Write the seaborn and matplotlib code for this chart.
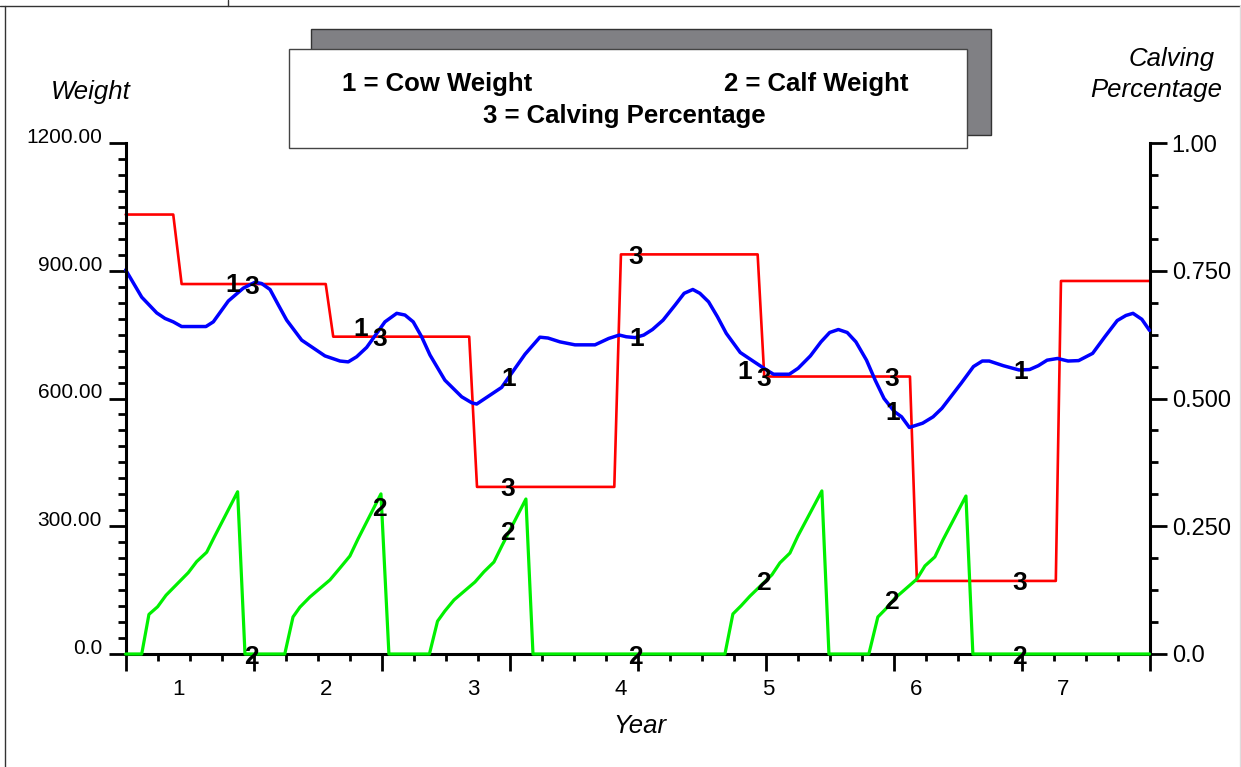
import numpy as np
import pandas as pd
import matplotlib
matplotlib.use("Agg")
import matplotlib.pyplot as plt
from matplotlib.patches import Rectangle
from matplotlib.lines import Line2D
from matplotlib.ticker import MultipleLocator
import seaborn as sns

# ---------------------------------------------------------------- data
cow_year = [0.638, 0.747, 0.849, 0.905, 0.961, 1.018, 1.183, 1.233, 1.335, 1.436,
            1.516, 1.561, 1.618, 1.674, 1.731, 1.833, 1.991, 2.093, 2.149, 2.206,
            2.274, 2.398, 2.478, 2.534, 2.590, 2.647, 2.704, 2.805, 2.919, 2.987,
            3.021, 3.190, 3.349, 3.450, 3.505, 3.586, 3.688, 3.824, 3.917, 3.989,
            4.036, 4.096, 4.155, 4.214, 4.286, 4.369, 4.429, 4.488, 4.536, 4.595,
            4.655, 4.715, 4.810, 4.905, 4.988, 5.036, 5.143, 5.203, 5.286, 5.358,
            5.417, 5.476, 5.536, 5.595, 5.667, 5.726, 5.786, 5.857, 5.905, 5.958,
            6.048, 6.119, 6.179, 6.239, 6.310, 6.393, 6.453, 6.500, 6.596, 6.702,
            6.774, 6.833, 6.893, 6.964, 7.035, 7.107, 7.202, 7.285, 7.369, 7.428,
            7.476, 7.536, 7.588]
cow_weight = [902, 838, 801, 788, 780, 769, 769, 780, 829, 859,
              873, 870, 856, 820, 784, 737, 700, 688, 686, 698,
              720, 780, 800, 796, 780, 745, 702, 643, 604, 590,
              587, 626, 704, 744, 742, 733, 726, 726, 741, 749,
              745, 743, 749, 762, 784, 820, 847, 856, 847, 827,
              792, 753, 708, 686, 667, 657, 657, 671, 700, 733,
              755, 762, 755, 733, 690, 643, 600, 569, 557, 532,
              542, 557, 577, 604, 636, 675, 688, 688, 677, 667,
              668, 677, 690, 694, 688, 689, 706, 745, 783, 795,
              800, 786, 760]

calf_year = [0.638, 0.747, 0.796, 0.855, 0.912, 1.063, 1.120, 1.188, 1.240, 1.398, 1.448,
             1.718, 1.774, 1.821, 1.889, 2.025, 2.093, 2.160, 2.215, 2.371, 2.425,
             2.700, 2.755, 2.805, 2.867, 3.009, 3.070, 3.138, 3.192, 3.355, 3.403,
             4.706, 4.760, 4.815, 4.876, 5.025, 5.079, 5.147, 5.201, 5.364, 5.412,
             5.683, 5.744, 5.798, 5.860, 6.009, 6.064, 6.131, 6.186, 6.342, 6.389,
             7.588]
calf_weight = [0, 0, 93, 111, 138, 191, 217, 239, 275, 381, 0,
               0, 87, 110, 134, 174, 202, 230, 270, 376, 0,
               0, 77, 101, 127, 169, 193, 216, 254, 364, 0,
               0, 94, 113, 136, 186, 214, 237, 277, 383, 0,
               0, 87, 106, 131, 176, 207, 228, 268, 371, 0,
               0]

calving_year = [0.638, 0.961, 1.018, 1.996, 2.047, 2.970, 3.023, 3.955,
                4.000, 4.928, 4.973, 5.962, 6.009, 6.952, 6.987, 7.588]
calving_pct = [0.860, 0.860, 0.724, 0.724, 0.621, 0.621, 0.327, 0.327,
               0.782, 0.782, 0.543, 0.543, 0.143, 0.143, 0.730, 0.730]

year_ticks = [1, 2, 3, 4, 5, 6, 7]
year_labels = ["1", "2", "3", "4", "5", "6", "7"]
weight_ticks = [0, 300, 600, 900, 1200]
weight_labels = ["0.0", "300.00", "600.00", "900.00", "1200.00"]
pct_ticks = [0.0, 0.25, 0.5, 0.75, 1.0]
pct_labels = ["0.0", "0.250", "0.500", "0.750", "1.00"]
legend_lines = ["1 = Cow Weight", "2 = Calf Weight", "3 = Calving Percentage"]

cow = pd.DataFrame({"year": cow_year, "weight": cow_weight})
calf = pd.DataFrame({"year": calf_year, "weight": calf_weight})
calving = pd.DataFrame({"year": calving_year, "pct": calving_pct})

# ---------------------------------------------------------------- style
sns.set_style("white")
plt.rcParams["font.family"] = ["Liberation Sans", "DejaVu Sans"]
plt.rcParams.update({"text.color": "black", "axes.labelcolor": "black",
                     "xtick.color": "black", "ytick.color": "black"})

W, H = 1241, 767
fig = plt.figure(figsize=(W / 100, H / 100), dpi=100)
fig.patch.set_facecolor("white")


def fx(px):
    return px / W


def fy(py):
    return 1 - py / H


X0, X1, YT, YB = 125.6, 1149.5, 143.0, 654.0
XMIN, XMAX = 0.6376, 7.588

ax = fig.add_axes([fx(X0), fy(YB), fx(X1) - fx(X0), fy(YT) - fy(YB)])
ax2 = ax.twinx()
ax.set_zorder(ax2.get_zorder() + 1)
ax.patch.set_visible(False)

BLUE, RED, GREEN = "#0000ff", "#ff0000", "#00f000"

sns.lineplot(data=calving, x="year", y="pct", ax=ax2, color=RED, linewidth=1.9,
             estimator=None, sort=False, legend=False)
sns.lineplot(data=cow, x="year", y="weight", ax=ax, color=BLUE, linewidth=2.5,
             estimator=None, sort=False, legend=False)
sns.lineplot(data=calf, x="year", y="weight", ax=ax, color=GREEN, linewidth=2.3,
             estimator=None, sort=False, legend=False)
for ln in ax.lines + ax2.lines:
    ln.set_clip_on(False)
ax.lines[-1].set_zorder(4)

ax.set_xlim(XMIN, XMAX)
ax.set_ylim(0, 1200)
ax2.set_ylim(0, 1)
ax.set_xlabel("")
ax.set_ylabel("")
ax2.set_ylabel("")

# spines
for s in ["top", "right"]:
    ax.spines[s].set_visible(False)
for s in ["top", "left", "bottom"]:
    ax2.spines[s].set_visible(False)
for sp in [ax.spines["left"], ax.spines["bottom"], ax2.spines["right"]]:
    sp.set_linewidth(2.2)
    sp.set_color("black")

# left axis ticks
ax.set_yticks(weight_ticks, labels=weight_labels)
ax.yaxis.set_minor_locator(MultipleLocator(37.5))
ax.tick_params(axis="y", which="major", direction="out", length=12, width=2,
               pad=5, labelsize=15, left=True, colors="black")
ax.tick_params(axis="y", which="minor", direction="out", length=6, width=2, left=True)
for lab in ax.get_yticklabels():
    lab.set_verticalalignment("baseline")

# right axis ticks
ax2.set_yticks(pct_ticks, labels=pct_labels)
ax2.yaxis.set_minor_locator(MultipleLocator(0.0625))
ax2.tick_params(axis="y", which="major", direction="out", length=12, width=2,
                pad=4, labelsize=17, right=True, colors="black")
ax2.tick_params(axis="y", which="minor", direction="out", length=6, width=2, right=True)

# bottom axis: unlabeled ticks plus year labels
ax.set_xticks(np.linspace(XMIN, XMAX, 9))
ax.set_xticks(np.linspace(XMIN, XMAX, 33), minor=True)
ax.tick_params(axis="x", which="major", direction="out", length=12, width=2,
               bottom=True, labelbottom=False)
ax.tick_params(axis="x", which="minor", direction="out", length=5, width=2, bottom=True)
sec = ax.secondary_xaxis("bottom")
sec.set_xticks(year_ticks, labels=year_labels)
sec.tick_params(length=0, pad=18, labelsize=16, colors="black")
sec.spines["bottom"].set_visible(False)

# curve identifiers at the inner major ticks
id_style = dict(ha="center", va="center_baseline", fontsize=19, fontweight="bold",
                color="black", zorder=6, annotation_clip=False)
for xt in np.linspace(XMIN, XMAX, 9)[1:-1]:
    w_cow = np.interp(xt, cow_year, cow_weight)
    w_calf = np.interp(xt, calf_year, calf_weight)
    p = np.interp(xt, calving_year, calving_pct)
    dx = -21 if abs(w_cow / 1200 - p) < 0.05 else -1
    ax.annotate("1", xy=(xt, w_cow), xytext=(dx, 0), textcoords="offset pixels", **id_style)
    ax.annotate("2", xy=(xt, w_calf), xytext=(-2, 0), textcoords="offset pixels", **id_style)
    ax.annotate("3", xy=(xt, p), xycoords=ax2.transData, xytext=(-2, 0),
                textcoords="offset pixels", **id_style)

# axis titles
fig.text(fx(91), fy(99), "Weight", ha="center", va="baseline", fontsize=18.5, style="italic")
fig.text(fx(1215), fy(66), "Calving", ha="right", va="baseline", fontsize=18.5, style="italic")
fig.text(fx(1222), fy(97), "Percentage", ha="right", va="baseline", fontsize=18.5, style="italic")
fig.text(fx(640), fy(733), "Year", ha="center", va="baseline", fontsize=18.5, style="italic")

# legend panel with drop shadow
fig.add_artist(Rectangle((fx(310.7), fy(135)), fx(991) - fx(310.7), fy(29.3) - fy(135),
                         transform=fig.transFigure, facecolor="#808084",
                         edgecolor="#333333", linewidth=1, zorder=1))
fig.add_artist(Rectangle((fx(289.3), fy(148.3)), fx(967) - fx(289.3), fy(49.3) - fy(148.3),
                         transform=fig.transFigure, facecolor="white",
                         edgecolor="#444444", linewidth=1, zorder=2))
leg_style = dict(ha="center", va="baseline", fontsize=18.5, fontweight="bold",
                 color="black", zorder=3)
fig.text(fx(437.5), fy(91.5), legend_lines[0], **leg_style)
fig.text(fx(816), fy(91.5), legend_lines[1], **leg_style)
fig.text(fx(624.5), fy(123.5), legend_lines[2], **leg_style)

# outer frame
frame = dict(transform=fig.transFigure, color="#333333", linewidth=1)
fig.add_artist(Line2D([0, 1], [fy(6), fy(6)], **frame))
fig.add_artist(Line2D([fx(4.5), fx(4.5)], [fy(6), 0], **frame))
fig.add_artist(Line2D([fx(228.5), fx(228.5)], [1, fy(6)], **frame))
fig.add_artist(Line2D([fx(1239.5), fx(1239.5)], [fy(6), 0], transform=fig.transFigure,
                      color="#dddddd", linewidth=1))

fig.savefig("out.png", dpi=100)
